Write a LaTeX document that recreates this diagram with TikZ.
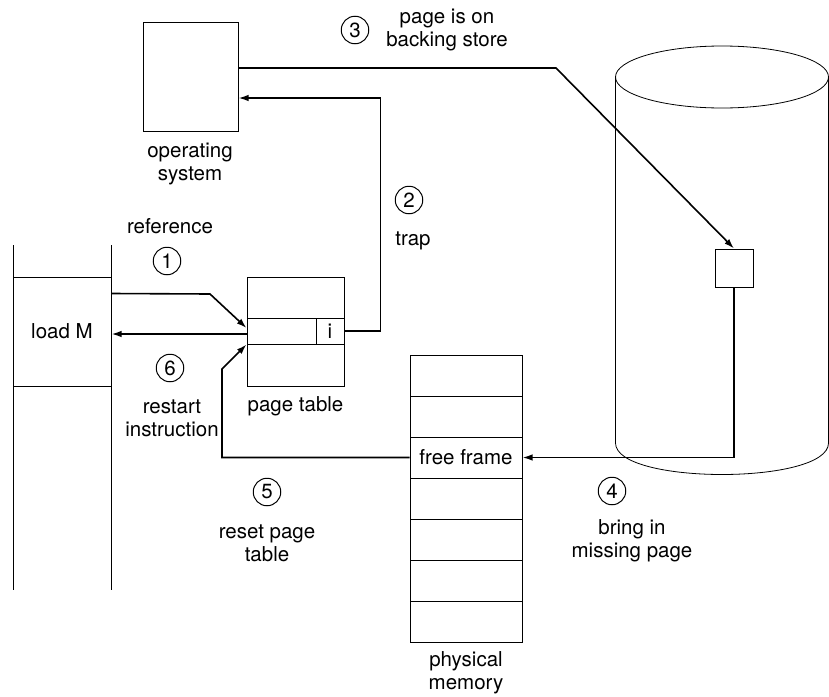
\documentclass[tikz,border=0pt]{standalone}
\usepackage{fontspec}
\setmainfont{TeX Gyre Heros}
\usetikzlibrary{arrows.meta,positioning}

\begin{document}
\begin{tikzpicture}[
    x=1pt, y=-1pt,
    font=\fontsize{20.5}{23}\selectfont,
    box/.style={draw, line width=1pt, inner sep=0pt},
    frame/.style={box, minimum width=112pt, minimum height=41pt},
    flow/.style={-{Latex[length=10pt,width=6.5pt]}, line width=1.6pt},
    stepnum/.style={draw, circle, line width=1pt, minimum size=27.5pt, inner sep=0pt},
    note/.style={align=center, inner sep=0pt}
]
\useasboundingbox (0,0) rectangle (829,696);

% program
\draw[line width=1pt] (13,245) -- (13,590) (111,245) -- (111,590);
\node[box, minimum width=98pt, minimum height=109pt] (loadm) at (62,331.5) {load M};

% page table
\node[box, minimum width=97pt, minimum height=109pt] (ptable) at (295.5,331.5) {};
\node[box, minimum width=69pt, minimum height=26pt] (entry) at (281.5,331) {};
\node[box, minimum width=28pt, minimum height=26pt] (ibit) at (330,331) {i};
\node[note, below=10pt of ptable] (ptlabel) {page table};

% operating system
\node[box, minimum width=95pt, minimum height=109pt] (os) at (190.5,76.5) {};
\node[note] (oslabel) at (190,164) {operating\\system};

% backing store
\draw[line width=0.8pt] (722,77) ellipse [x radius=106.5, y radius=31];
\draw[line width=0.8pt] (615.5,77) -- (615.5,443)
    .. controls (615.5,485) and (828.5,485) .. (828.5,443) -- (828.5,77);
\node[box, minimum size=38pt] (dpage) at (734,268) {};

% physical memory
\foreach \k in {0,...,6}
    \node[frame] (frame\k) at (466,375.5+41*\k) {};
\node[note] (free) at (frame2) {free frame};
\node[note, below=9pt of frame6] (pmlabel) {physical\\memory};

% steps
\node[note] (ref) at (170,226) {reference};
\node[stepnum] (c1) at (167,261) {1};
\node[stepnum] (c2) at (409,200) {2};
\node[note] (trap) at (413,241) {trap};
\node[stepnum] (c3) at (355,30) {3};
\node[note] (onstore) at (447,30) {page is on\\backing store};
\node[stepnum] (c4) at (612,491) {4};
\node[note] (bring) at (632,541) {bring in\\missing page};
\node[stepnum] (c5) at (267,492) {5};
\node[note] (reset) at (267,543) {reset page\\table};
\node[stepnum] (c6) at (170,368) {6};
\node[note] (restart) at (172,418) {restart\\instruction};

% connectors
\draw[flow] ([yshift=-17pt]loadm.north east) -- (210,294) -- ([yshift=3pt]entry.west);
\draw[flow] (ibit.east) -- ++(36,0) |- ([yshift=-21.5pt]os.east);
\draw[flow] ([yshift=8.5pt]os.east) -- (556,68) -- (dpage.north);
\draw[flow] (dpage.south) |- (frame2.east);
\draw[flow] (frame2.west) -- (222,457.5) -- (222,369) -- (entry.south west);
\draw[flow] ([yshift=-3pt]entry.west) coordinate (s6) -- (s6 -| loadm.east);
\end{tikzpicture}
\end{document}
